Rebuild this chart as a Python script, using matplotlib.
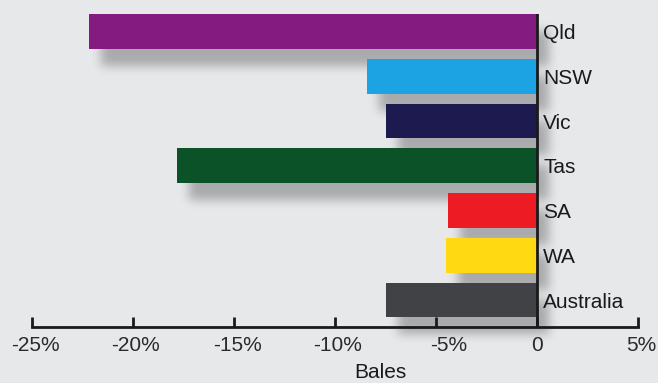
import numpy as np
import matplotlib
matplotlib.use('Agg')
import matplotlib.pyplot as plt
from matplotlib.patches import Rectangle
from matplotlib.collections import PatchCollection
from matplotlib.transforms import ScaledTranslation

#==========Data==========
states = ['Australia', 'WA', 'SA', 'Tas', 'Vic', 'NSW', 'Qld']
change = [-7.5, -4.5, -4.4, -17.8, -7.5, -8.4, -22.2]
colors = ['#414246', '#ffd912', '#ed1c24', '#0b5229', '#1d1a50', '#1ba3e3', '#841b80']
tick_vals = [-25, -20, -15, -10, -5, 0, 5]
tick_text = ['-25%', '-20%', '-15%', '-10%', '-5%', '0', '5%']

bg = '#e7e8ea'
plt.rcParams['font.family'] = ['Liberation Sans', 'DejaVu Sans']


#==========Blurred drop shadow filter==========
def drop_shadow(ox, oy, sigma, alpha):
    r = int(3 * sigma)
    k = np.exp(-0.5 * (np.arange(-r, r + 1) / sigma) ** 2)
    k /= k.sum()

    def filt(im, dpi):
        pad = r + max(ox, oy) + 2
        a = np.pad(im[:, :, 3], pad)
        a = np.apply_along_axis(np.convolve, 0, a, k, mode='same')
        a = np.apply_along_axis(np.convolve, 1, a, k, mode='same')
        out = np.zeros(a.shape + (4,))
        out[..., 3] = np.clip(a * alpha, 0, 1)
        out = np.roll(out, ox, axis=1)
        out = np.roll(out, oy, axis=0)
        return out, -pad, -pad
    return filt


#==========Figure==========
fig = plt.figure(figsize=(6.58, 3.83), dpi=100, facecolor=bg)
ax = fig.add_axes([32 / 658, 1 - 327 / 383, 606 / 658, 313 / 383])
ax.set_facecolor(bg)

y = np.arange(len(states))
h = 0.78

# shadows
shadow = PatchCollection([Rectangle((v, yy - h / 2), -v, h) for v, yy in zip(change, y)],
                         facecolor='black', edgecolor='none', zorder=1, clip_on=False)
shadow.set_agg_filter(drop_shadow(12, 17, 5, 0.27))
ax.add_collection(shadow)

ax.barh(y, change, height=h, color=colors, zorder=2)
ax.axvline(0, color='#1a1a1a', lw=2, zorder=3)

for yy, s in zip(y, states):
    ax.annotate(s, (0, yy), xytext=(4.5, -1.5), textcoords='offset points',
                ha='left', va='center', fontsize=15, color='#1a1a1a')

ax.set_xlim(-25, 5)
ax.set_ylim(-0.603, 6.391)
for side in ['top', 'left', 'right']:
    ax.spines[side].set_visible(False)
ax.spines['bottom'].set_linewidth(2)
ax.spines['bottom'].set_color('#1a1a1a')
ax.set_yticks([])
ax.set_xticks(tick_vals)
ax.set_xticklabels(tick_text)
ax.tick_params(axis='x', direction='in', length=7, width=2, color='#1a1a1a',
               labelsize=15, labelcolor='#2a2a2a', pad=6.5)

# small label nudges as in the original
for t, dx in zip(ax.xaxis.get_major_ticks(), [3, 3, 3, 3, 13, 0, 3]):
    t.label1.set_transform(t.label1.get_transform() + ScaledTranslation(dx / 100, 0, fig.dpi_scale_trans))

ax.set_xlabel('Bales', fontsize=15, color='#1a1a1a')
ax.xaxis.set_label_coords(348 / 606, -36 / 313)

fig.savefig('out.png', dpi=100, facecolor=bg)
